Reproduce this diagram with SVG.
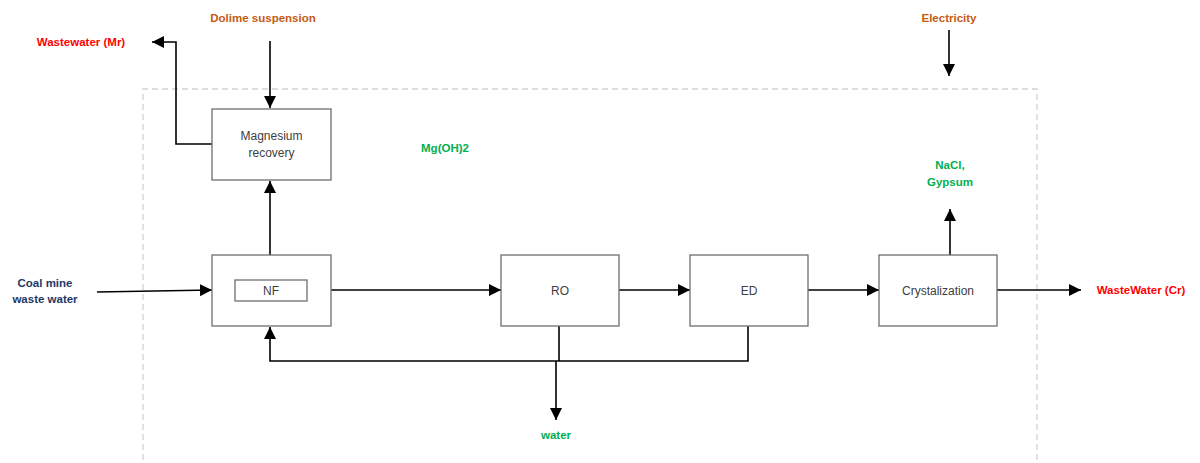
<svg xmlns="http://www.w3.org/2000/svg" width="1200" height="463" viewBox="0 0 1200 463">
  <style>
    .box { fill: #ffffff; stroke: #6e6e6e; stroke-width: 1.3; }
    .lbl { font-family: "Liberation Sans", Arial, sans-serif; font-size: 12px; fill: #404040; text-anchor: middle; dominant-baseline: central; }
    .tag { font-family: "Liberation Sans", Arial, sans-serif; font-size: 11.5px; font-weight: bold; text-anchor: middle; dominant-baseline: central; }
    .orange { fill: #C55A11; }
    .red { fill: #FF0000; }
    .green { fill: #00B050; }
    .navy { fill: #1F3864; }
    .flow { fill: none; stroke: #000000; stroke-width: 1.6; }
    .arrow { marker-end: url(#head); }
  </style>
  <defs>
    <marker id="head" viewBox="0 0 10 10" refX="10" refY="5" markerWidth="12" markerHeight="12" markerUnits="userSpaceOnUse" orient="auto">
      <path d="M0,0 L10,5 L0,10 Z" fill="#000000"/>
    </marker>
  </defs>

  <rect width="1200" height="463" fill="#ffffff"/>

  <!-- system boundary -->
  <g id="boundary">
    <path d="M143,470 L143,89 L1037,89 L1037,470" fill="none" stroke="#d2d2d2" stroke-width="1.3" stroke-dasharray="6 4"/>
  </g>

  <!-- connectors -->
  <g id="connectors">
    <line class="flow arrow" x1="270" y1="41" x2="270" y2="108"/>
    <polyline class="flow arrow" points="212,144 176,144 176,42 152,42"/>
    <line class="flow arrow" x1="97" y1="292" x2="212" y2="290"/>
    <line class="flow arrow" x1="270" y1="255" x2="270" y2="181"/>
    <line class="flow arrow" x1="331" y1="290" x2="501" y2="290"/>
    <line class="flow arrow" x1="619" y1="290" x2="690" y2="290"/>
    <line class="flow arrow" x1="808" y1="290" x2="879" y2="290"/>
    <line class="flow arrow" x1="997" y1="290" x2="1081" y2="290"/>
    <line class="flow arrow" x1="950" y1="255" x2="950" y2="209"/>
    <line class="flow arrow" x1="949" y1="30" x2="949" y2="76"/>
    <polyline class="flow" points="559,326 559,361"/>
    <polyline class="flow arrow" points="748,326 748,361 270,361 270,327"/>
    <line class="flow arrow" x1="556" y1="361" x2="556" y2="420"/>
  </g>

  <!-- process units -->
  <g id="mg-recovery">
    <rect class="box" x="212" y="109" width="119" height="71"/>
    <text class="lbl" x="271.5" y="136">Magnesium</text>
    <text class="lbl" x="271.5" y="153">recovery</text>
  </g>
  <g id="nf">
    <rect class="box" x="212" y="255" width="119" height="71"/>
    <rect class="box" x="235" y="280" width="72" height="21"/>
    <text class="lbl" x="271" y="290.5">NF</text>
  </g>
  <g id="ro">
    <rect class="box" x="501" y="255" width="118" height="71"/>
    <text class="lbl" x="560" y="290.5">RO</text>
  </g>
  <g id="ed">
    <rect class="box" x="690" y="255" width="118" height="71"/>
    <text class="lbl" x="749" y="290.5">ED</text>
  </g>
  <g id="crystalization">
    <rect class="box" x="879" y="255" width="118" height="71"/>
    <text class="lbl" x="938" y="290.5">Crystalization</text>
  </g>

  <!-- stream labels -->
  <g id="stream-labels">
    <text class="tag orange" x="263" y="18">Dolime suspension</text>
    <text class="tag red" x="81" y="42">Wastewater (Mr)</text>
    <text class="tag navy" x="45" y="283">Coal mine</text>
    <text class="tag navy" x="45" y="299">waste water</text>
    <text class="tag green" x="445" y="148">Mg(OH)2</text>
    <text class="tag orange" x="949" y="18">Electricity</text>
    <text class="tag green" x="950" y="165">NaCl,</text>
    <text class="tag green" x="950" y="182">Gypsum</text>
    <text class="tag red" x="1141" y="290">WasteWater (Cr)</text>
    <text class="tag green" x="556" y="435">water</text>
  </g>
</svg>
